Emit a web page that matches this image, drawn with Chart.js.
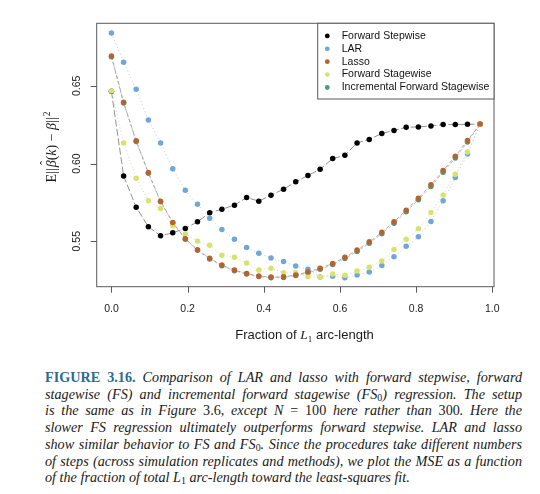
<!DOCTYPE html>
<html><head><meta charset="utf-8">
<script src="https://cdn.jsdelivr.net/npm/chart.js@4.4.1/dist/chart.umd.min.js"></script>
<style>
html,body{margin:0;padding:0;background:#fff;width:540px;height:494px;overflow:hidden;}
#wrap{position:absolute;left:0;top:0;width:540px;height:350px;}
#cap{position:absolute;left:45px;top:369px;width:477px;font-family:"Liberation Serif",serif;font-style:italic;font-size:14.2px;line-height:16.7px;color:#1a1a1a;}
#cap .ln{white-space:nowrap;text-align:justify;text-align-last:justify;}
#cap .ln.last{text-align-last:left;}
#cap .fig{font-style:normal;font-weight:bold;color:#2d6b8f;}
#cap .r{font-style:normal;}
#cap sub{font-size:70%;line-height:0;vertical-align:-0.25em;font-style:normal;}
</style></head>
<body>
<div id="wrap"><canvas id="c"></canvas></div>
<div id="cap">
<div class="ln"><span class="fig">FIGURE 3.16.</span> Comparison of LAR and lasso with forward stepwise, forward</div>
<div class="ln">stagewise (FS) and incremental forward stagewise (FS<sub>0</sub>) regression. The setup</div>
<div class="ln">is the same as in Figure <span class="r">3.6</span>, except N <span class="r">= 100</span> here rather than <span class="r">300</span>. Here the</div>
<div class="ln">slower FS regression ultimately outperforms forward stepwise. LAR and lasso</div>
<div class="ln">show similar behavior to FS and FS<sub>0</sub>. Since the procedures take different numbers</div>
<div class="ln">of steps (across simulation replicates and methods), we plot the MSE as a function</div>
<div class="ln last">of the fraction of total L<sub>1</sub> arc-length toward the least-squares fit.</div>
</div>
<script>
// ---- data ----
const xFraction = [0.000, 0.032, 0.065, 0.097, 0.129, 0.161, 0.194, 0.226, 0.258, 0.290,
  0.323, 0.355, 0.387, 0.419, 0.452, 0.484, 0.516, 0.548, 0.581, 0.613,
  0.645, 0.677, 0.710, 0.742, 0.774, 0.806, 0.839, 0.871, 0.903, 0.935, 0.968];

const forwardStepwise = [0.6465, 0.5920, 0.5719, 0.5593, 0.5535, 0.5554, 0.5582, 0.5625, 0.5683, 0.5706,
  0.5732, 0.5781, 0.5758, 0.5796, 0.5835, 0.5882, 0.5923, 0.5963, 0.6032, 0.6053,
  0.6133, 0.6155, 0.6194, 0.6213, 0.6233, 0.6236, 0.6242, 0.6251, 0.6251, 0.6253, 0.6253];

const lar = [0.6840, 0.6653, 0.6478, 0.6280, 0.6133, 0.5966, 0.5828, 0.5738, 0.5647, 0.5576,
  0.5513, 0.5460, 0.5423, 0.5392, 0.5369, 0.5340, 0.5319, 0.5269, 0.5274, 0.5265,
  0.5282, 0.5301, 0.5343, 0.5400, 0.5467, 0.5529, 0.5627, 0.5760, 0.5910, 0.6062, 0.6253];

const lasso = [0.6692, 0.6394, 0.6146, 0.5942, 0.5758, 0.5621, 0.5516, 0.5445, 0.5390, 0.5346,
  0.5314, 0.5292, 0.5276, 0.5269, 0.5271, 0.5283, 0.5302, 0.5325, 0.5357, 0.5396,
  0.5443, 0.5496, 0.5557, 0.5625, 0.5700, 0.5777, 0.5863, 0.5955, 0.6047, 0.6148, 0.6255];

const forwardStagewise = [0.6467, 0.6133, 0.5906, 0.5761, 0.5711, 0.5600, 0.5547, 0.5500, 0.5474, 0.5410,
  0.5396, 0.5360, 0.5315, 0.5326, 0.5297, 0.5297, 0.5271, 0.5269, 0.5289, 0.5280,
  0.5308, 0.5333, 0.5373, 0.5447, 0.5513, 0.5580, 0.5685, 0.5798, 0.5931, 0.6075, 0.6253];

const incrementalForwardStagewise = [0.6688, 0.6390, 0.6142, 0.5938, 0.5754, 0.5617, 0.5512, 0.5441, 0.5386, 0.5342,
  0.5310, 0.5288, 0.5272, 0.5265, 0.5267, 0.5279, 0.5297, 0.5319, 0.5350, 0.5388,
  0.5434, 0.5487, 0.5548, 0.5615, 0.5690, 0.5767, 0.5852, 0.5944, 0.6036, 0.6138, 0.6253];

const seriesNames = ['Forward Stepwise', 'LAR', 'Lasso', 'Forward Stagewise', 'Incremental Forward Stagewise'];
const xTickValues = [0, 0.2, 0.4, 0.6, 0.8, 1.0];
const xTickLabels = ['0.0', '0.2', '0.4', '0.6', '0.8', '1.0'];
const yTickValues = [0.55, 0.60, 0.65];
const yTickLabels = ['0.55', '0.60', '0.65'];

// ---- styles ----
const colors = ['#000000', '#6ea7d8', '#b9622b', '#d7e46c', '#4f9a80'];
const lineColors = ['#6e6e6e', '#bdbdbd', '#999999', '#cccccc', '#a5a5a5'];
const dashes = [[7, 2.5], [1.2, 2.5], [4, 2.5], [1.2, 2.2], [3, 2]];
const drawOrder = [5, 3, 1, 2, 4];
const allSeries = [forwardStepwise, lar, lasso, forwardStagewise, incrementalForwardStagewise];

Chart.defaults.font.family = '"Liberation Sans", Arial, sans-serif';

const datasets = allSeries.map((vals, i) => ({
  label: seriesNames[i],
  data: vals.map((v, k) => ({x: xFraction[k], y: v})),
  showLine: true,
  borderColor: lineColors[i],
  borderWidth: 0.75,
  borderDash: dashes[i],
  pointRadius: 2.75,
  pointBorderWidth: 0,
  pointBackgroundColor: colors[i],
  order: drawOrder[i]
}));

const decor = {
  id: 'decor',
  beforeDatasetsDraw(chart) {
    const {ctx, chartArea: a, scales: {x, y}} = chart;
    ctx.save();
    ctx.strokeStyle = '#5a5a5a';
    ctx.lineWidth = 1;
    ctx.strokeRect(a.left, a.top, a.right - a.left, a.bottom - a.top);
    // tick marks (outward)
    ctx.beginPath();
    xTickValues.forEach(v => {
      const px = Math.round(x.getPixelForValue(v)) + 0.5;
      ctx.moveTo(px, a.bottom);
      ctx.lineTo(px, a.bottom + 6);
    });
    yTickValues.forEach(v => {
      const py = Math.round(y.getPixelForValue(v)) + 0.5;
      ctx.moveTo(a.left, py);
      ctx.lineTo(a.left - 6, py);
    });
    ctx.stroke();
    ctx.restore();
  },
  afterDraw(chart) {
    const {ctx, chartArea: a, scales: {x, y}} = chart;
    ctx.save();
    ctx.font = '10.5px "Liberation Sans"';
    ctx.fillStyle = '#222';
    ctx.textAlign = 'center';
    ctx.textBaseline = 'middle';
    // x tick labels
    xTickValues.forEach((v, i) => {
      ctx.fillText(xTickLabels[i], x.getPixelForValue(v), a.bottom + 22);
    });
    // y tick labels (rotated)
    yTickValues.forEach((v, i) => {
      const py = y.getPixelForValue(v);
      ctx.save();
      ctx.translate(a.left - 19.4, py);
      ctx.rotate(-Math.PI / 2);
      ctx.fillText(yTickLabels[i], 0, 0);
      ctx.restore();
    });

    // x axis title
    const parts = [
      {t: 'Fraction of ', f: '13px "Liberation Sans"', dy: 0},
      {t: 'L', f: 'italic 13.5px "Liberation Serif"', dy: 0},
      {t: '1', f: '9px "Liberation Serif"', dy: 2.5},
      {t: ' arc-length', f: '13px "Liberation Sans"', dy: 0}
    ];
    let tw = 0;
    parts.forEach(p => { ctx.font = p.f; p.w = ctx.measureText(p.t).width; tw += p.w; });
    let cx = 304.5 - tw / 2;
    ctx.textAlign = 'left';
    ctx.textBaseline = 'alphabetic';
    ctx.fillStyle = '#1a1a1a';
    parts.forEach(p => { ctx.font = p.f; ctx.fillText(p.t, cx, a.bottom + 52.5 + p.dy); cx += p.w; });

    // y axis title (rotated)
    const yp = [
      {t: 'E', f: '14px "Liberation Serif"', dy: 0},
      {t: '||', f: '14px "Liberation Serif"', dy: 0, sp: 1},
      {t: 'β', f: 'italic 14px "Liberation Serif"', dy: 0, hat: true},
      {t: '(', f: '14px "Liberation Serif"', dy: 0},
      {t: 'k', f: 'italic 14px "Liberation Serif"', dy: 0},
      {t: ')', f: '14px "Liberation Serif"', dy: 0},
      {t: ' − ', f: '14px "Liberation Serif"', dy: 0},
      {t: 'β', f: 'italic 14px "Liberation Serif"', dy: 0},
      {t: '||', f: '14px "Liberation Serif"', dy: 0, sp: 1},
      {t: '2', f: '9.5px "Liberation Serif"', dy: -6}
    ];
    let yw = 0;
    yp.forEach(p => { ctx.font = p.f; p.w = ctx.measureText(p.t).width + (p.sp || 0); yw += p.w; });
    ctx.save();
    ctx.translate(a.left - 40.7, 147);
    ctx.rotate(-Math.PI / 2);
    let ux = -yw / 2;
    yp.forEach(p => {
      ctx.font = p.f;
      ctx.fillText(p.t, ux, p.dy);
      if (p.hat) {
        ctx.font = '12px "Liberation Serif"';
        ctx.fillText('ˆ', ux + 2.2, -7.5);
      }
      ux += p.w;
    });
    ctx.restore();

    // legend
    const lw = 176.3, lh = 75.7;
    const lx = a.right - lw, ly = a.top;
    ctx.fillStyle = '#fff';
    ctx.fillRect(lx, ly, lw, lh);
    ctx.strokeStyle = '#5a5a5a';
    ctx.lineWidth = 1;
    ctx.strokeRect(lx, ly, lw, lh);
    ctx.font = '10.5px "Liberation Sans"';
    ctx.textBaseline = 'middle';
    seriesNames.forEach((n, i) => {
      const ry = ly + 12.6 + i * 12.9;
      ctx.fillStyle = colors[i];
      ctx.beginPath();
      ctx.arc(lx + 9.6, ry, 2.4, 0, Math.PI * 2);
      ctx.fill();
      ctx.fillStyle = '#111';
      ctx.fillText(n, lx + 24, ry);
    });
    ctx.restore();
  }
};

new Chart(document.getElementById('c'), {
  type: 'scatter',
  data: {datasets},
  options: {
    responsive: true,
    maintainAspectRatio: false,
    animation: false,
    events: [],
    layout: {padding: {left: 96.7, top: 23.3, right: 46, bottom: 63.3}},
    plugins: {legend: {display: false}, tooltip: {enabled: false}},
    scales: {
      x: {
        type: 'linear',
        display: false,
        min: -0.0387,
        max: 1.0046
      },
      y: {
        type: 'linear',
        display: false,
        min: 0.5207,
        max: 0.6903
      }
    }
  },
  plugins: [decor]
});
</script>
</body></html>
